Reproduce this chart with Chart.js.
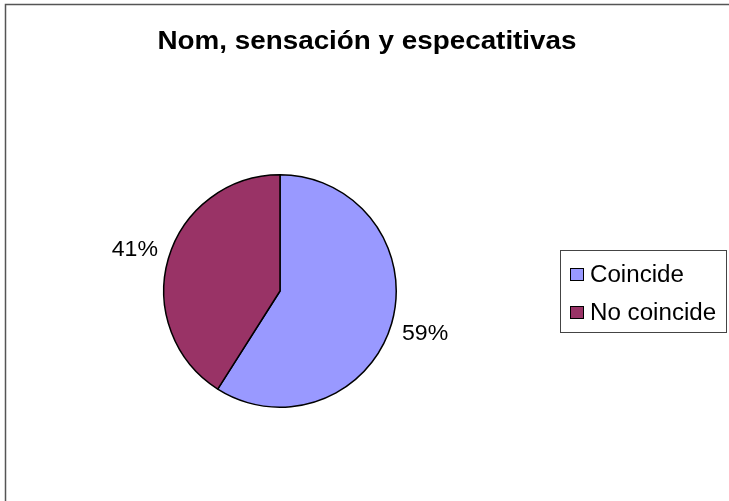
<!DOCTYPE html>
<html lang="es">
<head>
    <meta charset="UTF-8">
    <title>Nom, sensación y especatitivas</title>
    <script src="https://cdn.jsdelivr.net/npm/chart.js"></script>
    <style>
        html, body { margin: 0; padding: 0; background: #fff; }
        #wrap { width: 729px; height: 501px; }
    </style>
</head>
<body>
    <div id="wrap"><canvas id="pieChart" width="729" height="501"></canvas></div>

    <script>
        // data
        const titleText = 'Nom, sensación y especatitivas';
        const categories = ['Coincide', 'No coincide'];
        const values = [59, 41];
        const colors = ['#9999FF', '#993366'];

        const FONT = '"Liberation Sans", Arial, sans-serif';

        // the text in the original is a bit wider than plain Arial
        function stretchedText(ctx, text, x, y, font, align, sx) {
            ctx.save();
            ctx.font = font;
            ctx.translate(x, y);
            ctx.scale(sx, 1);
            ctx.textAlign = align;
            ctx.fillText(text, 0, 0);
            ctx.restore();
        }

        // frame, title, percent labels and legend
        const decorations = {
            id: 'decorations',
            afterDraw(chart) {
                const ctx = chart.ctx;
                ctx.save();

                // outer frame (right and bottom edges are off the picture)
                ctx.strokeStyle = '#555';
                ctx.lineWidth = 1.5;
                ctx.strokeRect(5.5, 4.5, 740, 520);

                ctx.fillStyle = '#000';
                ctx.textBaseline = 'alphabetic';
                stretchedText(ctx, titleText, 367, 49, 'bold 26px ' + FONT, 'center', 1.07);

                // percentage labels outside each slice
                const total = values.reduce((a, b) => a + b, 0);
                const meta = chart.getDatasetMeta(0);
                meta.data.forEach((arc, i) => {
                    const mid = (arc.startAngle + arc.endAngle) / 2;
                    const r = arc.outerRadius * 1.3;
                    const x = arc.x + Math.cos(mid) * r;
                    const y = arc.y + Math.sin(mid) * r;
                    const pct = Math.round(values[i] / total * 100) + '%';
                    ctx.textBaseline = 'middle';
                    stretchedText(ctx, pct, x, y + 1, '22px ' + FONT, 'center', 1.05);
                });

                // legend box
                ctx.strokeStyle = '#444';
                ctx.lineWidth = 1;
                ctx.strokeRect(560.5, 250.5, 166, 82);
                categories.forEach((label, i) => {
                    const top = 268 + i * 38;
                    ctx.fillStyle = colors[i];
                    ctx.fillRect(570, top, 14, 13);
                    ctx.strokeStyle = '#000';
                    ctx.strokeRect(570.5, top + 0.5, 13, 12);
                    ctx.fillStyle = '#000';
                    ctx.textBaseline = 'alphabetic';
                    stretchedText(ctx, label, 590, top + 14, '23px ' + FONT, 'left', 1.05);
                });

                ctx.restore();
            }
        };

        const ctx = document.getElementById('pieChart').getContext('2d');
        const pieChart = new Chart(ctx, {
            type: 'pie',
            data: {
                labels: categories,
                datasets: [{
                    data: values,
                    backgroundColor: colors,
                    borderColor: '#000',
                    borderWidth: 1.5,
                    hoverOffset: 0
                }]
            },
            options: {
                responsive: false,
                animation: false,
                layout: {
                    padding: { left: 163, right: 332, top: 174, bottom: 93 }
                },
                plugins: {
                    legend: { display: false },
                    title: { display: false },
                    tooltip: { enabled: false }
                }
            },
            plugins: [decorations]
        });
    </script>
</body>
</html>
